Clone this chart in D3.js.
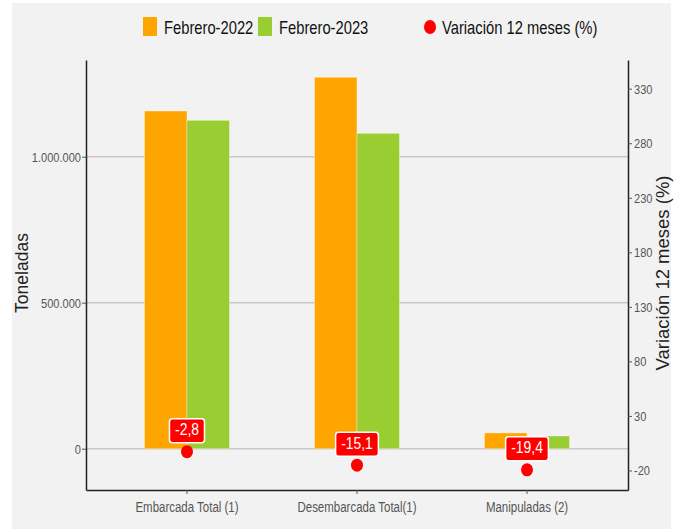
<!DOCTYPE html>
<html>
<head>
<meta charset="utf-8">
<script src="https://cdn.jsdelivr.net/npm/d3@7"></script>
<style>
  body { margin: 0; background: #fff; }
  text { font-family: "Liberation Sans", Arial, sans-serif; }
</style>
</head>
<body>
<div id="chart"></div>
<script>
// data
var categories = ["Embarcada Total (1)", "Desembarcada Total(1)", "Manipuladas (2)"];
var series = ["Febrero-2022", "Febrero-2023"];
var values2022 = [1156500, 1272000, 54000];
var values2023 = [1124500, 1080000, 43500];
var variacion = [-2.8, -15.1, -19.4];
var leftTicks = [0, 500000, 1000000];
var rightTicks = [-20, 30, 80, 130, 180, 230, 280, 330];

var W = 678, H = 529;
var margin = { top: 60, right: 50, bottom: 39, left: 86 };
var width = W - margin.left - margin.right,
    height = H - margin.top - margin.bottom;
var SQ = 0.82; // the original uses a condensed face

var svg = d3.select("#chart").append("svg")
  .attr("width", W).attr("height", H);

// gray panel
svg.append("rect").attr("x", 12).attr("y", 3).attr("width", 659).attr("height", H - 3)
  .attr("fill", "#f2f2f2");

var g = svg.append("g").attr("transform", "translate(" + margin.left + "," + margin.top + ")");

var x = d3.scaleBand().domain(categories).range([0, width]).paddingInner(0.5).paddingOuter(0.344);
var xs = d3.scaleBand().domain(series).range([0, x.bandwidth()]);
var y = d3.scaleLinear().domain([-141400, 1331200]).range([height, 0]);
var yR = d3.scaleLinear().domain([-37.9, 356.3]).range([height, 0]);
var color = d3.scaleOrdinal().domain(series).range(["#ffa500", "#9acd32"]);

var loc = d3.formatLocale({ decimal: ",", thousands: ".", grouping: [3], currency: ["", ""], minus: "-" });

// squeeze text horizontally, keeping its anchor x
function squeeze(sel) {
  sel.each(function() {
    var t = d3.select(this);
    var x0 = +t.attr("x") || 0;
    t.attr("x", x0 / SQ).attr("transform", "scale(" + SQ + ",1)");
  });
}

// gridlines
g.append("g").selectAll("line").data(leftTicks).join("line")
  .attr("x1", 0).attr("x2", width)
  .attr("y1", d => y(d)).attr("y2", d => y(d))
  .attr("stroke", "#c8c8c8").attr("stroke-width", 1.5);

// bars
var rows = categories.map((c, i) => ({ cat: c, vals: [values2022[i], values2023[i]] }));
var grp = g.selectAll(".grp").data(rows).join("g")
  .attr("class", "grp")
  .attr("transform", d => "translate(" + x(d.cat) + ",0)");
grp.selectAll("rect").data(d => d.vals.map((v, j) => ({ s: series[j], v: v }))).join("rect")
  .attr("x", d => xs(d.s))
  .attr("width", xs.bandwidth())
  .attr("y", d => y(d.v))
  .attr("height", d => y(0) - y(d.v))
  .attr("fill", d => color(d.s))
  .attr("stroke", "rgba(255,255,255,0.35)")
  .attr("stroke-width", 1);

// axes
var yAxis = g.append("g").call(d3.axisLeft(y).tickValues(leftTicks).tickSize(4).tickSizeOuter(0)
  .tickFormat(loc.format(",")));
var yAxisR = g.append("g").attr("transform", "translate(" + width + ",0)")
  .call(d3.axisRight(yR).tickValues(rightTicks).tickSize(4).tickSizeOuter(0).tickFormat(loc.format("d")));
var xAxis = g.append("g").attr("transform", "translate(0," + height + ")")
  .call(d3.axisBottom(x).tickSize(4).tickSizeOuter(0));

[yAxis, yAxisR, xAxis].forEach(a => {
  a.attr("font-family", null);
  a.select(".domain").attr("stroke", "#222").attr("stroke-width", 1.5);
  a.selectAll(".tick line").attr("stroke", "#555");
  a.selectAll(".tick text").attr("fill", "#555").attr("font-size", 13.5);
});
yAxis.selectAll(".tick text").attr("x", -5);
yAxisR.selectAll(".tick text").attr("x", 6);
xAxis.selectAll(".tick text").attr("font-size", 14).attr("dy", "1.05em");
[yAxis, yAxisR, xAxis].forEach(a => squeeze(a.selectAll(".tick text")));

// axis titles
svg.append("text")
  .attr("transform", "translate(28,273) rotate(-90)")
  .attr("text-anchor", "middle").attr("font-size", 17.5).attr("fill", "#222")
  .text("Toneladas");
svg.append("text")
  .attr("transform", "translate(669,273) rotate(-90)")
  .attr("text-anchor", "middle").attr("font-size", 18.5).attr("fill", "#222")
  .text("Variación 12 meses (%)");

// variation points + labels
var pts = g.selectAll(".pt").data(categories.map((c, i) => ({ cat: c, v: variacion[i] }))).join("g")
  .attr("class", "pt")
  .attr("transform", d => "translate(" + (x(d.cat) + x.bandwidth() / 2) + "," + yR(d.v) + ")");
pts.append("ellipse").attr("rx", 6).attr("ry", 6.5).attr("fill", "#ff0000");
pts.each(function(d) {
  var p = d3.select(this);
  var t = p.append("text")
    .attr("text-anchor", "middle").attr("font-size", 17).attr("fill", "#fff")
    .attr("y", -16.5)
    .text(loc.format(".1f")(d.v));
  var w = t.node().getComputedTextLength() * SQ + 11;
  squeeze(t);
  p.insert("rect", "text")
    .attr("x", -w / 2).attr("y", -33).attr("width", w).attr("height", 24)
    .attr("rx", 3).attr("fill", "#ff0000").attr("stroke", "#fff").attr("stroke-width", 1.5);
});

// legend
var leg = svg.append("g");
var legItems = [
  { label: series[0], x: 143, kind: "rect", c: color(series[0]) },
  { label: series[1], x: 258, kind: "rect", c: color(series[1]) },
  { label: "Variación 12 meses (%)", x: 424, kind: "dot", c: "#ff0000" }
];
legItems.forEach(it => {
  if (it.kind === "rect") {
    leg.append("rect").attr("x", it.x).attr("y", 17).attr("width", 14).attr("height", 19).attr("fill", it.c);
  } else {
    leg.append("ellipse").attr("cx", it.x + 6).attr("cy", 27).attr("rx", 6).attr("ry", 7).attr("fill", it.c);
  }
  var t = leg.append("text")
    .attr("x", it.x + (it.kind === "rect" ? 21 : 18)).attr("y", 34)
    .attr("font-size", 18).attr("fill", "#111")
    .text(it.label);
  squeeze(t);
});
</script>
</body>
</html>
